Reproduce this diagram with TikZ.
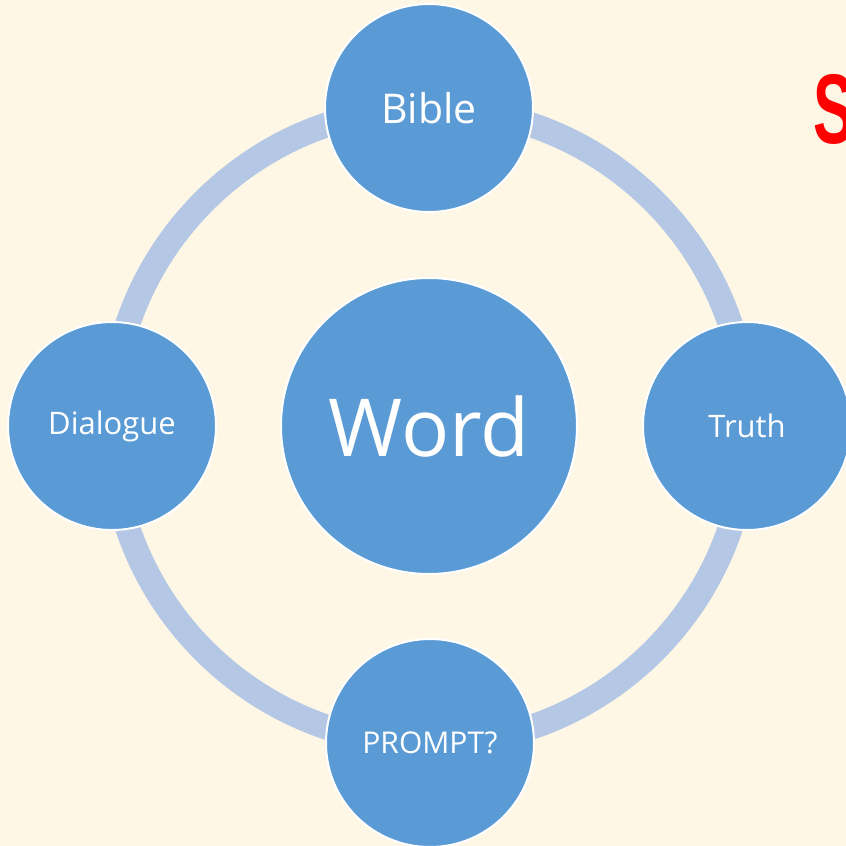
\documentclass[tikz,border=0pt]{standalone}
\usepackage{fontspec}
\setmainfont{Open Sans}
\newfontfamily\redfont{Liberation Sans}
\definecolor{bgcream}{HTML}{FFF7E6}
\definecolor{nodeblue}{HTML}{5B9BD5}
\definecolor{ringblue}{HTML}{B4C8E6}
\begin{document}
\begin{tikzpicture}[x=1pt,y=-1pt,
  bubble/.style={circle,fill=nodeblue,draw=white,line width=2pt,inner sep=0pt,text=white,minimum size=208pt},
  ring/.style={draw=ringblue,line width=25pt}]
\useasboundingbox (0,0) rectangle (846,846);
\clip (0,0) rectangle (846,846);
\fill[bgcream] (0,0) rectangle (846,846);
\coordinate (center) at (429,426);
\draw[ring] (center) circle (318);
\node[bubble,minimum size=296pt,font=\fontsize{80}{84}\selectfont] (word) at (center) {Word};
\node[bubble,font=\fontsize{41}{46}\selectfont] (bible) at (429,108) {Bible};
\node[bubble,font=\fontsize{31}{36}\selectfont] (dialogue) at (112,426) {Dialogue};
\node[bubble,font=\fontsize{31}{36}\selectfont] (truth) at (747,426) {Truth};
\node[bubble,font=\fontsize{30}{36}\selectfont] (prompt) at (430,743) {PROMPT?};
\node[anchor=base west,inner sep=0pt,text=red,xscale=0.62,font=\redfont\bfseries\fontsize{99}{100}\selectfont] (title) at (813,143) {S};
\end{tikzpicture}
\end{document}
